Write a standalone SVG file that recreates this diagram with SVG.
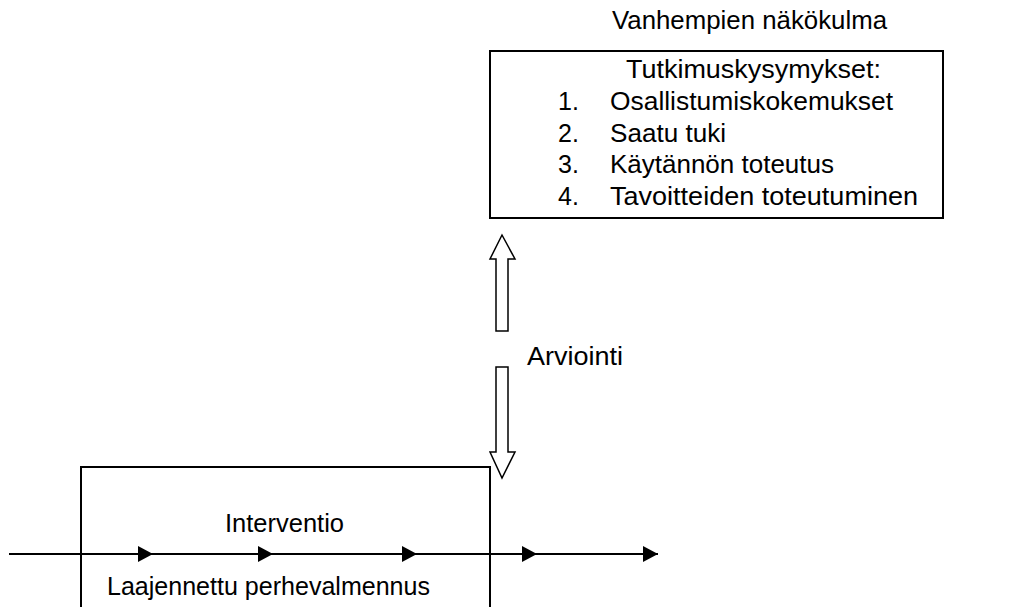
<svg xmlns="http://www.w3.org/2000/svg" width="1009" height="607" viewBox="0 0 1009 607">
<defs>
<style>
text{font-family:"Liberation Sans",Arial,sans-serif;font-size:25px;fill:#000}
.box{fill:#fff;stroke:#000;stroke-width:2}
.line{fill:none;stroke:#000;stroke-width:2}
.hollow{fill:#fff;stroke:#000;stroke-width:1.5}
</style>
<marker id="tri" markerWidth="15" markerHeight="16" refX="15" refY="8" orient="auto" markerUnits="userSpaceOnUse">
<path d="M0,0 L15,8 L0,16 Z" fill="#000"/>
</marker>
</defs>
<text x="612" y="29" textLength="275" lengthAdjust="spacingAndGlyphs">Vanhempien näkökulma</text>
<g id="questions">
<rect class="box" x="490" y="51" width="453" height="167"/>
<text x="626" y="78" textLength="255" lengthAdjust="spacingAndGlyphs">Tutkimuskysymykset:</text>
<text x="558" y="110">1.</text><text x="610" y="110" textLength="283" lengthAdjust="spacingAndGlyphs">Osallistumiskokemukset</text>
<text x="558" y="142">2.</text><text x="610" y="142" textLength="116" lengthAdjust="spacingAndGlyphs">Saatu tuki</text>
<text x="558" y="173">3.</text><text x="610" y="173" textLength="224" lengthAdjust="spacingAndGlyphs">Käytännön toteutus</text>
<text x="558" y="205">4.</text><text x="610" y="205" textLength="308" lengthAdjust="spacingAndGlyphs">Tavoitteiden toteutuminen</text>
</g>
<g id="intervention">
<path class="box" d="M81,607 V467 H490 V607"/>
<text x="225" y="532" textLength="119" lengthAdjust="spacingAndGlyphs">Interventio</text>
<text x="107" y="595" textLength="323" lengthAdjust="spacingAndGlyphs">Laajennettu perhevalmennus</text>
</g>
<g id="evaluation">
<text x="527" y="365" textLength="96" lengthAdjust="spacingAndGlyphs">Arviointi</text>
</g>
<g id="connectors">
<path class="hollow" d="M502,235 L515,259 L508,259 L508,331 L496,331 L496,259 L490,259 Z"/>
<path class="hollow" d="M496,367 L508,367 L508,452 L515,452 L502,478 L490,452 L496,452 Z"/>
<path class="line" d="M9,554 H153" marker-end="url(#tri)"/>
<path class="line" d="M153,554 H273" marker-end="url(#tri)"/>
<path class="line" d="M273,554 H417" marker-end="url(#tri)"/>
<path class="line" d="M417,554 H537" marker-end="url(#tri)"/>
<path class="line" d="M537,554 H658" marker-end="url(#tri)"/>
</g>
</svg>
